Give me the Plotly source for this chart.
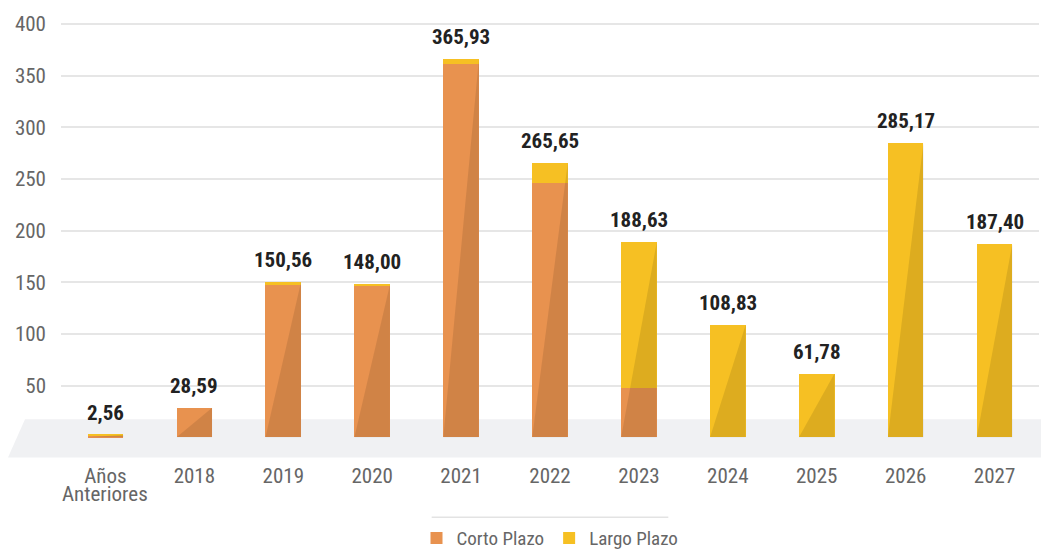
import plotly.graph_objects as go

categories = ["Años Anteriores", "2018", "2019", "2020", "2021", "2022", "2023", "2024", "2025", "2026", "2027"]
corto = [1.3, 28.59, 147.6, 146.0, 361.0, 246.0, 48.0, 0, 0, 0, 0]
largo = [1.26, 0, 2.96, 2.0, 4.93, 19.65, 140.63, 108.83, 61.78, 285.17, 187.40]
totals = [2.56, 28.59, 150.56, 148.00, 365.93, 265.65, 188.63, 108.83, 61.78, 285.17, 187.40]
yticks = [50, 100, 150, 200, 250, 300, 350, 400]

ORANGE = "#E8924F"
YELLOW = "#F6C023"
BAR_W = 0.4
FONT = "Roboto Condensed, Liberation Sans Narrow, Roboto, sans-serif"

fig = go.Figure()
fig.add_trace(go.Bar(x=list(range(len(categories))), y=corto, name="Corto Plazo",
                     marker=dict(color=ORANGE, line=dict(width=0)), width=BAR_W))
fig.add_trace(go.Bar(x=list(range(len(categories))), y=largo, name="Largo Plazo",
                     marker=dict(color=YELLOW, line=dict(width=0)), width=BAR_W))

# diagonal shading triangles (derived from totals)
for i, t in enumerate(totals):
    l, r = i - BAR_W / 2, i + BAR_W / 2
    fig.add_trace(go.Scatter(x=[l, r, r, l], y=[0, t, 0, 0], mode="lines", fill="toself",
                             fillcolor="rgba(0,0,0,0.10)", line=dict(width=0),
                             hoverinfo="skip", showlegend=False))

for i, t in enumerate(totals):
    fig.add_annotation(x=i, y=t, text=f"{t:.2f}".replace(".", ","), showarrow=False,
                       yanchor="bottom", yshift=8,
                       font=dict(family=FONT, size=21, color="#222222", weight="bold"))

# tick labels: first category split over two tighter lines
ticktext = [c.split(" ")[0] for c in categories]
fig.add_annotation(x=0, xref="x", y=-0.0836, yref="paper", text=categories[0].split(" ")[1],
                   showarrow=False, yanchor="middle",
                   font=dict(family=FONT, size=21, color="#666666"))

# floor band
fig.add_shape(type="path", xref="paper", yref="y", layer="below",
              path="M -0.0368 17.5 L 1.02 17.5 L 1.02 -19.5 L -0.0542 -19.5 Z",
              fillcolor="#F0F1F3", line=dict(width=0))
# line above legend
fig.add_shape(type="line", xref="paper", yref="paper", x0=0.379, x1=0.621, y0=-0.136, y1=-0.136,
              line=dict(color="#E3E3E3", width=1.5))

fig.update_layout(
    width=1041, height=541,
    barmode="stack",
    plot_bgcolor="white", paper_bgcolor="white",
    margin=dict(l=53, r=10, t=14, b=91, autoexpand=False),
    font=dict(family=FONT, size=21, color="#666666"),
    showlegend=True,
    legend=dict(orientation="h", x=0.5, xanchor="center", y=-0.14, yanchor="top",
                bgcolor="rgba(0,0,0,0)",
                font=dict(size=19, color="#666666"), traceorder="normal",
                itemwidth=30),
)
fig.update_xaxes(tickmode="array", tickvals=list(range(len(categories))), ticktext=ticktext,
                 range=[-0.5, len(categories) - 0.5], showgrid=False, zeroline=False,
                 showline=False, ticks="", automargin=False, ticklabelstandoff=3,
                 tickfont=dict(size=21, color="#666666"))
fig.update_yaxes(range=[-20, 402], tickvals=yticks, showgrid=True, gridcolor="#E6E6E6",
                 gridwidth=1.5, zeroline=False, showline=False, ticks="", automargin=False,
                 ticklabelstandoff=14, tickfont=dict(size=21, color="#666666"))

fig.write_html("out.html")
